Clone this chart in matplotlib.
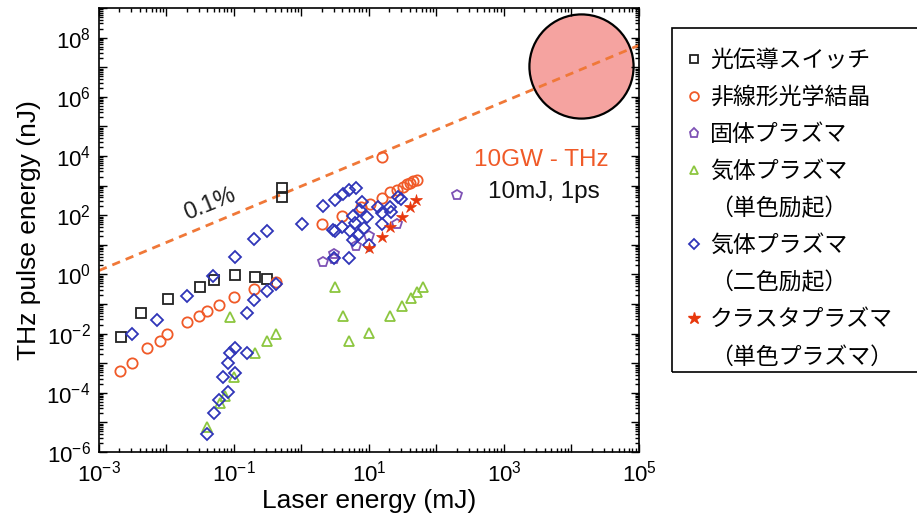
import matplotlib
matplotlib.use('Agg')
import math
import matplotlib.pyplot as plt
from matplotlib.lines import Line2D
from matplotlib.patches import Rectangle
from matplotlib.ticker import LogLocator, FuncFormatter, NullFormatter

plt.rcParams['font.family'] = ['Liberation Sans', 'Noto Sans CJK JP', 'DejaVu Sans']

# ---------------- data (laser energy mJ, THz energy nJ) ----------------
pc_x = [2.1e-3, 4.15e-3, 0.0105, 0.0313, 0.051, 0.102, 0.203, 0.305, 0.514, 0.514]
pc_y = [7.9e-3, 0.0485, 0.144, 0.366, 0.647, 0.93, 0.836, 0.716, 849, 403]

nl_x = [2.05e-3, 3.05e-3, 5.1e-3, 8.1e-3, 0.0103, 0.0203, 0.030, 0.0402, 0.0605, 0.101,
        0.2, 0.415, 15.4, 1.99, 4.02, 7.53, 10.3, 15.4, 20.5, 25.7, 31.6, 36.2, 40.5,
        44.4, 50.9]
nl_y = [5.3e-4, 1.04e-3, 3.2e-3, 5.75e-3, 9.7e-3, 0.0241, 0.0384, 0.058, 0.0925, 0.177,
        0.321, 0.567, 9040, 50.5, 96, 194, 239, 390, 608, 710, 877, 1107, 1253,
        1397, 1545]

sp_x = [199, 2.06, 3.06, 3.06, 6.35, 10.1, 25.7]
sp_y = [481, 2.68, 4.89, 3.24, 9.33, 19.8, 49.3]

g1_x = [0.0402, 0.062, 0.0736, 0.101, 0.088, 0.203, 0.305, 0.415, 3.13, 4.07, 5.06,
        10.1, 20.5, 30.5, 41.5, 50.9, 62.5]
g1_y = [7.2e-6, 4.6e-5, 8.0e-5, 3.5e-4, 0.0356, 2.26e-3, 5.6e-3, 9.5e-3, 0.384, 0.0403,
        5.6e-3, 0.0107, 0.0394, 0.0855, 0.163, 0.248, 0.384]

g2_x = [3.05e-3, 7.3e-3, 0.0203, 0.0493, 0.102, 0.2, 0.305, 0.154, 0.2, 0.305, 0.415,
        0.154, 0.102, 0.088, 0.0807, 0.0693, 0.102, 0.0824, 0.06, 0.051, 0.0402,
        3.13, 5.24, 5.1, 3.06, 6.93, 10.1, 1.03, 2.05, 3.13, 4.07, 5.1, 6.41,
        2.96, 4.02, 5.85, 7.8, 7.36, 6.21, 8.43, 5.85, 9.44, 13.7, 15.4, 20.5, 21.0,
        15.4, 27.2, 29.8]
g2_y = [9.7e-3, 0.0288, 0.182, 0.883, 3.96, 15.3, 29.3, 0.0508, 0.136, 0.275, 0.463,
        2.26e-3, 3.2e-3, 2.16e-3, 9.9e-4, 3.5e-4, 4.56e-4, 1.04e-4, 5.7e-5, 2.13e-5, 4.06e-6,
        29.3, 29.3, 3.66, 3.5, 21.4, 9.85, 50.5, 200, 339, 532, 694, 849,
        31.6, 40.8, 94, 273, 150, 55.8, 36.1, 14.5, 89, 194, 116, 194, 131,
        50.5, 422, 344]

cl_x = [10.1, 15.4, 20.5, 30.5, 40.5, 49.7]
cl_y = [7.6, 17.9, 39, 85, 194, 327]

eff_x = [1e-3, 1e5]          # 0.1 % conversion line
eff_y = [1.35, 5.5e7]

target_x = [1.38e4]          # 10 GW THz target
target_y = [1.1e7]

series_names = ['光伝導スイッチ', '非線形光学結晶', '固体プラズマ', '気体プラズマ',
                '気体プラズマ', 'クラスタプラズマ']
series_sub = ['', '', '', '（単色励起）', '（二色励起）', '（単色プラズマ）']

# ---------------- figure ----------------
fig = plt.figure(figsize=(9.17, 5.17), dpi=100)
ax = fig.add_axes([99/917, 1-452/517, 540/917, 444/517])

ax.plot(target_x, target_y, linestyle='none', marker='o', ms=75, mfc='#F5A3A0',
        mec='black', mew=1.6, zorder=1)
ax.plot(eff_x, eff_y, linestyle='--', color='#F07838', lw=2, dashes=(3, 2.2), zorder=2)

styles = [
    dict(marker='s', color='#222222', ms=6.5),
    dict(marker='o', color='#F05A28', ms=7.4),
    dict(marker='p', color='#7E52B5', ms=7.8),
    dict(marker='^', color='#8CC63F', ms=7.4),
    dict(marker='D', color='#2F35B8', ms=6.0),
    dict(marker='*', color='#E8380D', ms=8.8),
]
xs = [pc_x, nl_x, sp_x, g1_x, g2_x, cl_x]
ys = [pc_y, nl_y, sp_y, g1_y, g2_y, cl_y]
order = [3, 2, 0, 1, 4, 5]
for i in order:
    st = styles[i]
    if st['marker'] == '*':
        ax.plot(xs[i], ys[i], linestyle='none', marker='*', ms=st['ms'],
                mfc=st['color'], mec=st['color'], mew=0.5, zorder=4)
    else:
        ax.plot(xs[i], ys[i], linestyle='none', marker=st['marker'], ms=st['ms'],
                mfc='none', mec=st['color'], mew=1.3, zorder=3)

ax.set_xscale('log')
ax.set_yscale('log')
ax.set_xlim(1e-3, 1e5)
ax.set_ylim(1e-6, 1e9)

ax.xaxis.set_major_locator(LogLocator(base=10, numticks=20))
ax.yaxis.set_major_locator(LogLocator(base=10, numticks=20))
ax.xaxis.set_minor_locator(LogLocator(base=10, subs=range(2, 10), numticks=100))
ax.yaxis.set_minor_locator(LogLocator(base=10, subs=range(2, 10), numticks=100))
ax.xaxis.set_minor_formatter(NullFormatter())
ax.yaxis.set_minor_formatter(NullFormatter())

def fmt_x(v, pos):
    e = int(round(math.log10(v)))
    return r'$\mathdefault{10^{%d}}$' % e if e % 2 != 0 else ''
def fmt_y(v, pos):
    e = int(round(math.log10(v)))
    return r'$\mathdefault{10^{%d}}$' % e if e % 2 == 0 else ''
ax.xaxis.set_major_formatter(FuncFormatter(fmt_x))
ax.yaxis.set_major_formatter(FuncFormatter(fmt_y))

ax.tick_params(which='both', direction='in', top=True, right=True, width=1.0)
ax.tick_params(which='major', length=6, labelsize=16, pad=6)
ax.tick_params(which='minor', length=3)
for s in ax.spines.values():
    s.set_linewidth(1.2)

ax.set_xlabel('Laser energy (mJ)', fontsize=19, labelpad=2)
ax.set_ylabel('THz pulse energy (nJ)', fontsize=19, labelpad=4)

ax.text(0.044, 235, '0.1%', fontsize=17, rotation=22, ha='center', va='center',
        color='#222222')
ax.text(3530, 7330, '10GW - THz', fontsize=17.5, ha='center', va='center', color='#F05A28')
ax.text(3920, 608, '10mJ, 1ps', fontsize=17.5, ha='center', va='center', color='#111111')

# legend with continuation lines
handles, labels = [], []
for i in range(6):
    st = styles[i]
    if st['marker'] == '*':
        h = Line2D([], [], linestyle='none', marker='*', ms=st['ms'], mfc=st['color'],
                   mec=st['color'])
    else:
        h = Line2D([], [], linestyle='none', marker=st['marker'], ms=st['ms'] * 0.85,
                   mfc='none', mec=st['color'], mew=1.3)
    handles.append(h)
    labels.append(series_names[i])
    if series_sub[i]:
        handles.append(Line2D([], [], linestyle='none', marker=''))
        labels.append(series_sub[i])

leg = fig.legend(handles, labels, loc='upper left',
                 bbox_to_anchor=(671/917, 1-32/517),
                 bbox_transform=fig.transFigure, frameon=False,
                 handlelength=0.5, handletextpad=0.45,
                 borderpad=0.75, labelspacing=0.612, borderaxespad=0,
                 prop={'family': ['Noto Sans CJK JP', 'DejaVu Sans'], 'size': 16.5})

# legend frame (extends past the right edge of the figure, as in the original)
fig.patches.append(Rectangle((672/917, 1-372/517), 270/917, 344/517,
                             transform=fig.transFigure, fill=False,
                             edgecolor='black', linewidth=1.2, clip_on=False))

fig.savefig('out.png', dpi=100)
